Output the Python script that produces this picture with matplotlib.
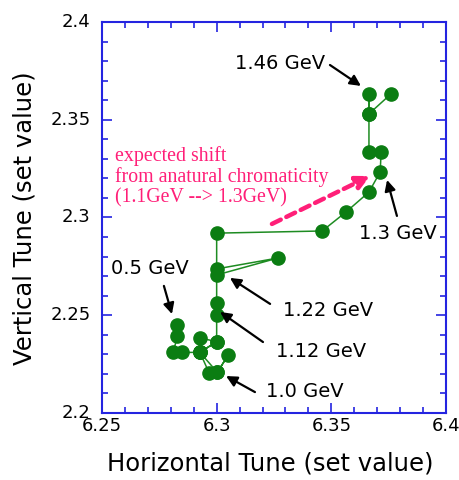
import matplotlib
matplotlib.use("Agg")
import matplotlib.pyplot as plt
import matplotlib.transforms as mtransforms
from matplotlib.ticker import MultipleLocator

# tune path during the energy ramp (set values), in the order the points were set
nu_x = [6.2828, 6.2828, 6.2811, 6.2848, 6.2927, 6.2968, 6.3003, 6.3051, 6.3003,
        6.2927, 6.2927, 6.3000, 6.2927, 6.3000, 6.3000, 6.3000, 6.3000, 6.3268,
        6.3000, 6.3000, 6.3460, 6.3564, 6.3664, 6.3713, 6.3717, 6.3664, 6.3664,
        6.3664, 6.3664, 6.3760]
nu_y = [2.2450, 2.2392, 2.2310, 2.2310, 2.2310, 2.2203, 2.2208, 2.2298, 2.2208,
        2.2310, 2.2384, 2.2365, 2.2310, 2.2365, 2.2501, 2.2563, 2.2706, 2.2793,
        2.2737, 2.2920, 2.2931, 2.3028, 2.3130, 2.3233, 2.3335, 2.3335, 2.3530,
        2.3632, 2.3530, 2.3632]

# energy labels: text position, arrow tail, arrow head
energy_labels = ["1.46 GeV", "1.3 GeV", "1.22 GeV", "1.12 GeV", "1.0 GeV", "0.5 GeV"]
label_xy = [(6.3276, 2.3795), (6.3791, 2.2921), (6.3485, 2.2527),
            (6.3455, 2.2322), (6.3385, 2.2113), (6.2709, 2.2742)]
tail_xy = [(6.3494, 2.3780), (6.3786, 2.3008), (6.3233, 2.2558),
           (6.3202, 2.2363), (6.3167, 2.2107), (6.2770, 2.2650)]
head_xy = [(6.3629, 2.3673), (6.3743, 2.3192), (6.3058, 2.2691),
           (6.3015, 2.2517), (6.3041, 2.2189), (6.2805, 2.2506)]

blue = "#2424e0"
green = "#0b7d12"
pink = "#ff1f78"

fig = plt.figure(figsize=(4.6, 4.81), dpi=100)
ax = fig.add_axes([0.2217, 0.1393, 0.7479, 0.9522 - 0.1393])

ax.plot(nu_x, nu_y, "-", color="#1e8c22", lw=1.1, zorder=2)
ax.plot(nu_x, nu_y, "o", color=green, ms=9.5, mec=green, zorder=3)

ax.set_xlim(6.25, 6.4)
ax.set_ylim(2.2, 2.4)
ax.xaxis.set_minor_locator(MultipleLocator(0.01))
ax.yaxis.set_minor_locator(MultipleLocator(0.01))
ax.set_xticks([6.25, 6.3, 6.35, 6.4])
ax.set_xticklabels(["6.25", "6.3", "6.35", "6.4"])
ax.set_yticks([2.2, 2.25, 2.3, 2.35, 2.4])
ax.set_yticklabels(["2.2", "2.25", "2.3", "2.35", "2.4"])

for s in ax.spines.values():
    s.set_color(blue)
    s.set_linewidth(1.5)
ax.tick_params(which="both", direction="in", top=True, right=True, color=blue,
               width=1.2, labelsize=13)
ax.tick_params(which="major", length=7)
ax.tick_params(which="minor", length=4)
ax.tick_params(axis="x", pad=2)
ax.tick_params(axis="y", pad=8)

# y tick labels sit a little above their ticks
shift_up = mtransforms.ScaledTranslation(0, 3 / 100, fig.dpi_scale_trans)
for lbl in ax.get_yticklabels():
    lbl.set_transform(lbl.get_transform() + shift_up)

ax.set_xlabel("Horizontal Tune (set value)", fontsize=17.5)
ax.set_ylabel("Vertical Tune (set value)", fontsize=17.5)
ax.xaxis.set_label_coords(0.49, -0.095)
ax.yaxis.set_label_coords(-0.19, 0.5)

for lab, txy, a, b in zip(energy_labels, label_xy, tail_xy, head_xy):
    ax.text(txy[0], txy[1], lab, fontsize=14, ha="center", va="center")
    ax.annotate("", xy=b, xytext=a,
                arrowprops=dict(arrowstyle="-|>", color="black", lw=1.6,
                                mutation_scale=16, shrinkA=0, shrinkB=0))

ax.text(6.2557, 2.3212,
        "expected shift\nfrom anatural chromaticity\n(1.1GeV --> 1.3GeV)",
        color=pink, family="Liberation Serif", fontsize=14.3, ha="left",
        va="center", linespacing=1.08)
ax.annotate("", xy=(6.3669, 2.3212), xytext=(6.3241, 2.2967),
            arrowprops=dict(arrowstyle="-|>", color=pink, lw=3.2, ls=(0, (2.2, 1.4)),
                            mutation_scale=20, shrinkA=0, shrinkB=0))

fig.savefig("out.png", dpi=100)
